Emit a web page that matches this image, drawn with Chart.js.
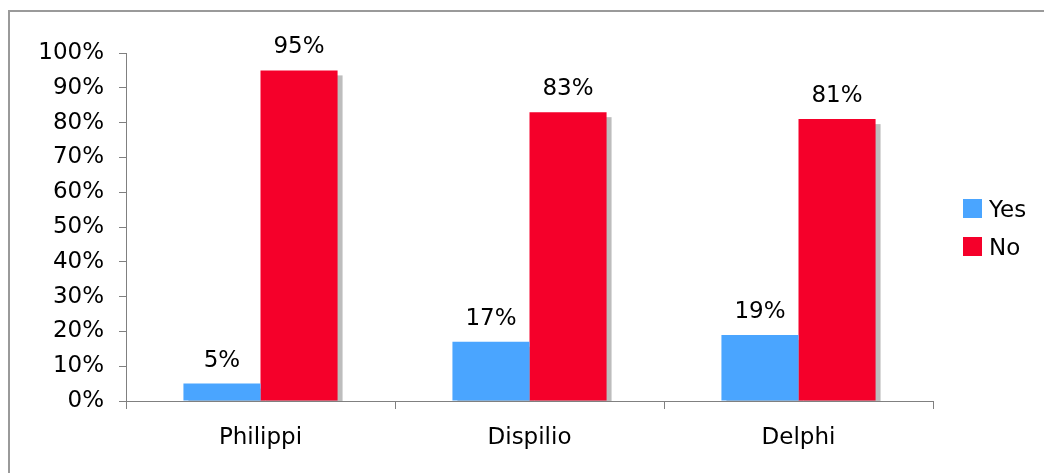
<!DOCTYPE html>
<html>
<head>
<meta charset="utf-8">
<script src="https://cdn.jsdelivr.net/npm/chart.js@4/dist/chart.umd.min.js"></script>
<style>
  html, body { margin: 0; padding: 0; background: #fff; }
  .wrap { position: relative; width: 1044px; height: 473px; overflow: hidden; }
  .frame {
    position: absolute; left: 8px; top: 10px; width: 1100px; height: 520px;
    border-top: 2px solid #9a9a9a; border-left: 2px solid #9a9a9a;
    pointer-events: none;
  }
</style>
</head>
<body>
<div class="wrap">
  <canvas id="chart" width="1044" height="473"></canvas>
  <div class="frame"></div>
</div>
<script>
const categories = ["Philippi", "Dispilio", "Delphi"];
const yesValues = [5, 17, 19];
const noValues = [95, 83, 81];
const seriesNames = ["Yes", "No"];

const FONT = "'DejaVu Sans', Verdana, sans-serif";
const blue = "#4aa5ff";
const red = "#f5002a";

// grey drop shadow behind each bar
const shadowPlugin = {
  id: "shadow",
  beforeDatasetsDraw(chart) {
    const ctx = chart.ctx;
    const area = chart.chartArea;
    ctx.save();
    ctx.beginPath();
    ctx.rect(area.left, area.top, area.right - area.left + 20, area.bottom - area.top);
    ctx.clip();
    ctx.fillStyle = "#bdbdbd";
    chart.data.datasets.forEach((ds, i) => {
      chart.getDatasetMeta(i).data.forEach((bar) => {
        const w = bar.width;
        ctx.fillRect(bar.x - w / 2 + 5, bar.y + 5, w, bar.base - bar.y);
      });
    });
    ctx.restore();
  },
};

// value labels above bars + legend on the right
const labelPlugin = {
  id: "labels",
  afterDatasetsDraw(chart) {
    const ctx = chart.ctx;
    ctx.save();
    ctx.font = "23px " + FONT;
    ctx.fillStyle = "#000";
    ctx.textAlign = "center";
    ctx.textBaseline = "alphabetic";
    chart.data.datasets.forEach((ds, i) => {
      chart.getDatasetMeta(i).data.forEach((bar, j) => {
        ctx.fillText(ds.data[j] + "%", bar.x, bar.y - 17);
      });
    });

    ctx.textAlign = "left";
    chart.data.datasets.forEach((ds, i) => {
      const y = 199 + i * 38;
      ctx.fillStyle = ds.backgroundColor;
      ctx.fillRect(963, y, 19, 19);
      ctx.fillStyle = "#000";
      ctx.fillText(ds.label, 989, y + 18);
    });
    ctx.restore();
  },
};

new Chart(document.getElementById("chart"), {
  type: "bar",
  data: {
    labels: categories,
    datasets: [
      { label: seriesNames[0], data: yesValues, backgroundColor: blue },
      { label: seriesNames[1], data: noValues, backgroundColor: red },
    ],
  },
  options: {
    responsive: false,
    animation: false,
    layout: { padding: { top: 53, right: 111, left: 0, bottom: 0 } },
    datasets: { bar: { categoryPercentage: 0.573, barPercentage: 1.0 } },
    plugins: { legend: { display: false }, tooltip: { enabled: false } },
    scales: {
      x: {
        afterFit: (s) => { s.height = 72; },
        grid: { offset: true, drawOnChartArea: false, tickLength: 8, color: "#808080" },
        border: { color: "#808080" },
        ticks: { color: "#000", font: { family: FONT, size: 23 }, padding: 15 },
      },
      y: {
        min: 0,
        max: 100,
        afterFit: (s) => { s.width = 126; },
        grid: { drawOnChartArea: false, tickLength: 7, color: "#808080" },
        border: { color: "#808080" },
        ticks: {
          stepSize: 10,
          color: "#000",
          padding: 15,
          font: { family: FONT, size: 23 },
          callback: (v) => v + "%",
        },
      },
    },
  },
  plugins: [shadowPlugin, labelPlugin],
});
</script>
</body>
</html>
